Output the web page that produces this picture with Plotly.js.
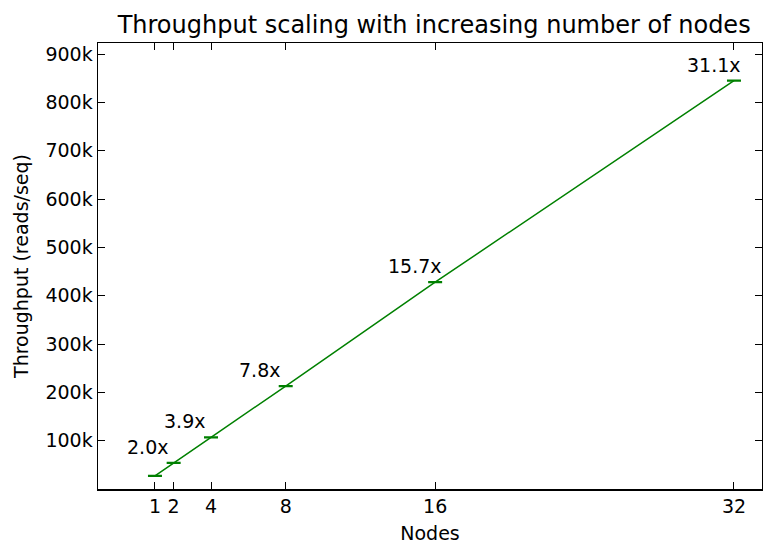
<!DOCTYPE html>
<html>
<head>
<meta charset="utf-8">
<script src="https://cdn.plot.ly/plotly-3.0.1.min.js"></script>
<style>html,body{margin:0;padding:0;background:#fff;}#chart{width:763px;height:544px;}</style>
</head>
<body>
<div id="chart"></div>
<script>
const nodes = [1, 2, 4, 8, 16, 32];
const throughput = [27000, 54000, 107000, 213000, 428000, 845000];
const throughputErr = [700, 700, 700, 700, 700, 700];
const speedupLabels = ["", "2.0x", "3.9x", "7.8x", "15.7x", "31.1x"];
const yTickVals = [100000, 200000, 300000, 400000, 500000, 600000, 700000, 800000, 900000];
const yTickText = ["100k", "200k", "300k", "400k", "500k", "600k", "700k", "800k", "900k"];

const font = "DejaVu Sans, sans-serif";

const trace = {
  x: nodes,
  y: throughput,
  type: "scatter",
  mode: "lines",
  line: {color: "#008000", width: 1.5},
  error_y: {type: "data", array: throughputErr, visible: true, color: "#008000", thickness: 1.5, width: 7},
  hoverinfo: "skip"
};

const annotations = [];
for (let i = 0; i < nodes.length; i++) {
  if (!speedupLabels[i]) continue;
  annotations.push({
    x: nodes[i], y: throughput[i], xref: "x", yref: "y",
    text: speedupLabels[i], showarrow: false,
    xanchor: "left", yanchor: "middle",
    xshift: -49, yshift: 16,
    font: {family: font, size: 19, color: "#000"}
  });
}

const axisCommon = {
  showline: true, linecolor: "#000", linewidth: 1.5, mirror: "ticks",
  ticks: "inside", ticklen: 7, tickwidth: 1, tickcolor: "#000",
  showgrid: false, zeroline: false,
  tickfont: {family: font, size: 19, color: "#000"}
};

const layout = {
  width: 763, height: 544,
  margin: {l: 98, r: 1, t: 43, b: 55},
  paper_bgcolor: "#fff", plot_bgcolor: "#fff",
  showlegend: false,
  title: {text: "Throughput scaling with increasing number of nodes", font: {family: font, size: 24, color: "#000"}, x: 0.569, xanchor: "center", y: 0.954, yanchor: "middle"},
  xaxis: Object.assign({}, axisCommon, {
    range: [-2.05, 33.5], tickvals: nodes, ticktext: nodes.map(String),
    title: {text: "Nodes", font: {family: font, size: 19, color: "#000"}, standoff: 11}
  }),
  yaxis: Object.assign({}, axisCommon, {
    range: [0, 923000], tickvals: yTickVals, ticktext: yTickText,
    title: {text: "Throughput (reads/seq)", font: {family: font, size: 19, color: "#000"}, standoff: 12}
  }),
  annotations: annotations
};

Plotly.newPlot("chart", [trace], layout, {displayModeBar: false, staticPlot: true});
</script>
</body>
</html>
